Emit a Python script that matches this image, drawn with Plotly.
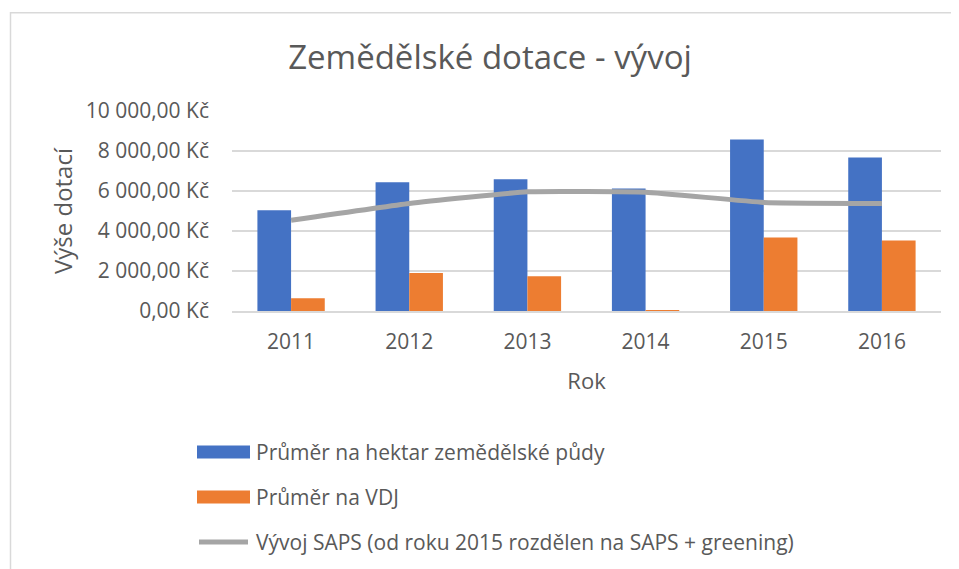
import plotly.graph_objects as go

# ---- data ----
years = ["2011", "2012", "2013", "2014", "2015", "2016"]
prumer_ha = [5040, 6440, 6590, 6130, 8580, 7670]
prumer_vdj = [640, 1900, 1740, 8, 3670, 3520]
saps = [4540, 5380, 5960, 5940, 5430, 5380]
series_names = [
    "Průměr na hektar zemědělské půdy",
    "Průměr na VDJ",
    "Vývoj SAPS (od roku 2015 rozdělen na SAPS + greening)",
]
y_ticks = [0, 2000, 4000, 6000, 8000, 10000]
y_tick_labels = ["0,00 Kč", "2 000,00 Kč", "4 000,00 Kč", "6 000,00 Kč", "8 000,00 Kč", "10 000,00 Kč"]
title_text = "Zemědělské dotace - vývoj"
x_title = "Rok"
y_title = "Výše dotací"

colors = ["#4472C4", "#ED7D31", "#A5A5A5"]
FONT = "Open Sans"
TXT = "#595959"

# page body has an 8px margin: work in window coordinates, shift by OFF
OFF = 8
W, H = 959 - OFF, 569 - OFF
L, R, T, B = 232, 941, 111, 311  # plot area in window pixels


def px(x):
    return (x - L) / (R - L)


def py(y):
    return (B - y) / (B - T)


fig = go.Figure()
fig.add_trace(go.Bar(x=years, y=prumer_ha, name=series_names[0],
                     marker=dict(color=colors[0], line=dict(width=0)), showlegend=False))
fig.add_trace(go.Bar(x=years, y=prumer_vdj, name=series_names[1],
                     marker=dict(color=colors[1], line=dict(width=0)), showlegend=False))
fig.add_trace(go.Scatter(x=years, y=saps, name=series_names[2], mode="lines",
                         line=dict(color=colors[2], width=5, shape="spline", smoothing=0.35),
                         showlegend=False))

shapes = []
annotations = []
# chart border
shapes.append(dict(type="rect", xref="paper", yref="paper",
                   x0=px(10.5), x1=px(990), y0=py(12.7), y1=py(620),
                   line=dict(color="#D9D9D9", width=1.5), fillcolor="rgba(0,0,0,0)", layer="below"))

# manual legend
leg_rows = [452, 497, 542]
for i, (name, yy) in enumerate(zip(series_names, leg_rows)):
    if i < 2:
        shapes.append(dict(type="rect", xref="paper", yref="paper",
                           x0=px(197), x1=px(250), y0=py(yy - 6.5), y1=py(yy + 6.5),
                           fillcolor=colors[i], line=dict(width=0)))
    else:
        shapes.append(dict(type="line", xref="paper", yref="paper",
                           x0=px(199), x1=px(248), y0=py(yy), y1=py(yy),
                           line=dict(color=colors[i], width=5)))
    annotations.append(dict(text=name, xref="paper", yref="paper", x=px(254), y=py(yy),
                            xanchor="left", yanchor="middle", showarrow=False,
                            font=dict(family=FONT, size=21, color=TXT)))

fig.update_layout(
    width=W, height=H,
    margin=dict(l=L - OFF, r=(W + OFF) - R, t=T - OFF, b=(H + OFF) - B),
    paper_bgcolor="white", plot_bgcolor="white",
    barmode="group", bargap=0.43, bargroupgap=0,
    title=dict(text=title_text, xref="container", yref="container",
               x=(490 - OFF) / W, y=1 - (57 - OFF) / H, xanchor="center", yanchor="middle",
               font=dict(family=FONT, size=33, color=TXT)),
    shapes=shapes, annotations=annotations,
    showlegend=False,
)
fig.update_yaxes(range=[0, 10000], tickmode="array", tickvals=y_ticks, ticktext=y_tick_labels,
                 showgrid=True, gridcolor="#D9D9D9", gridwidth=1.5,
                 zeroline=False, showline=False, ticks="",
                 ticklabelstandoff=22,
                 tickfont=dict(family=FONT, size=21, color=TXT),
                 title=dict(text=y_title, standoff=6, font=dict(family=FONT, size=24, color=TXT)))
fig.update_xaxes(type="category", showgrid=False, showline=True, linecolor="#D9D9D9", linewidth=1.5,
                 ticks="", ticklabelstandoff=11,
                 tickfont=dict(family=FONT, size=21, color=TXT),
                 title=dict(text=x_title, standoff=20, font=dict(family=FONT, size=22, color=TXT)))

fig.write_html("out.html")
